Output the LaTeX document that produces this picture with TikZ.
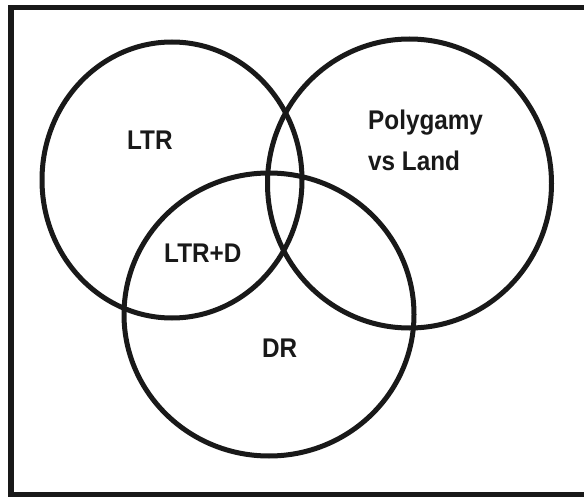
\documentclass[tikz,border=0pt]{standalone}
\usepackage{fontspec}
\setmainfont{Liberation Sans}
\tikzset{
  ring/.style={draw=black!90, line width=5pt},
  frame/.style={draw=black!90, line width=5.5pt},
  lbl/.style={font=\bfseries\fontsize{27}{31}\selectfont, inner sep=0pt, anchor=base west, text=black!90}
}
\newcommand{\narrow}[1]{\scalebox{0.9}[1]{#1}}
\begin{document}
\begin{tikzpicture}[x=1pt,y=-1pt]
  \useasboundingbox (0,0) rectangle (584,497);
  \clip (0,0) rectangle (584,497);
  \fill[white] (0,0) rectangle (584,497);
  % outer frame (its right side runs past the page edge)
  \draw[frame] (11,7.5) rectangle (600,495);
  % the three sets
  \draw[ring] (172,180) ellipse[x radius=130, y radius=138];
  \draw[ring] (409.5,183.5) ellipse[x radius=142, y radius=144.5];
  \draw[ring] (269,314.5) ellipse[x radius=145, y radius=141.5];
  % labels
  \node[lbl] (ltr) at (127,150) {\narrow{LTR}};
  \node[lbl] (poly) at (368,130) {\narrow{Polygamy}};
  \node[lbl] (land) at (368,171) {\narrow{vs Land}};
  \node[lbl] (ltrd) at (164,263) {\narrow{LTR+D}};
  \node[lbl] (dr) at (262,357) {\narrow{DR}};
\end{tikzpicture}
\end{document}
